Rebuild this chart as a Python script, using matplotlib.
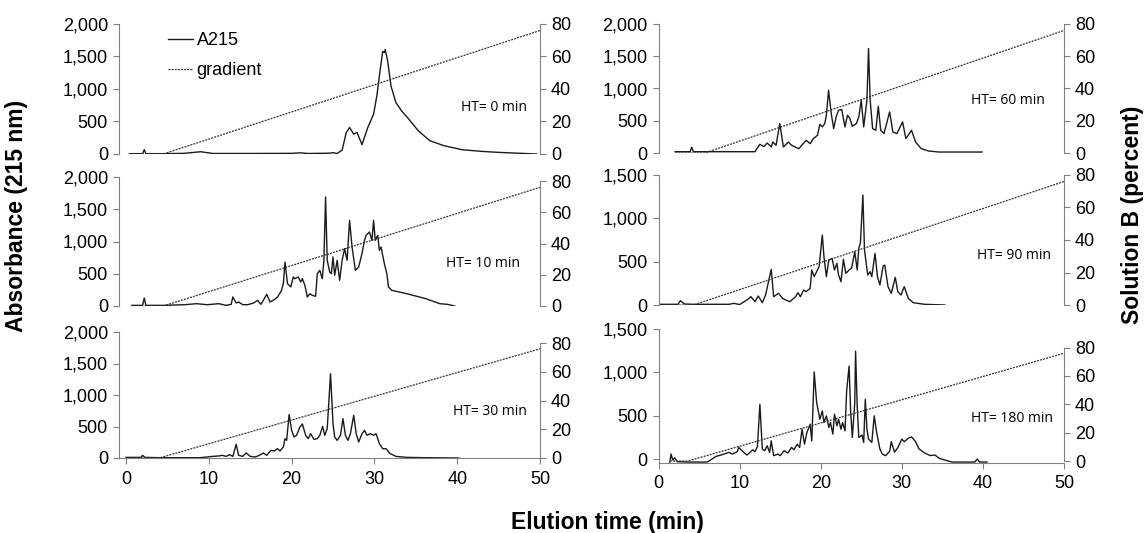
import matplotlib
matplotlib.use("Agg")
from matplotlib import pyplot as plt
from matplotlib.ticker import FuncFormatter

plt.rcParams['font.family'] = ['Liberation Sans', 'DejaVu Sans']

# HT = 0 min
t_ht0 = [0.4, 2.0, 2.2, 2.4, 4.5, 7.0, 9.0, 10.5, 15, 20, 21, 22, 24.5, 25, 25.5, 26.1, 26.6, 27.0,
         27.5, 27.9, 28.5, 29.2, 29.9, 30.3, 30.6, 31.0, 31.2, 31.3, 31.6, 32.0, 32.6, 33.3, 34.0,
         35.3, 36.7, 38.4, 40.6, 43, 45, 49.6]
a_ht0 = [5, 5, 66, 5, 5, 10, 35, 8, 8, 10, 18, 8, 12, 20, 8, 60, 330, 408, 306, 332, 143, 408, 612,
         900, 1200, 1580, 1560, 1607, 1430, 1046, 790, 660, 560, 357, 204, 128, 66, 40, 25, 0]

# HT = 60 min
t_ht60 = [2.05, 3.9, 4.1, 4.3, 5.7, 11.9, 12.5, 13.0, 13.4, 13.9, 14.1, 14.5, 14.95, 15.4, 16.0,
          16.4, 17.3, 18.2, 18.7, 19.1, 19.6, 19.9, 20.2, 20.5, 20.7, 20.97, 21.3, 21.6, 21.9, 22.2,
          22.6, 22.8, 23.0, 23.3, 23.6, 23.9, 24.4, 24.7, 25.0, 25.3, 25.7, 25.9, 26.1, 26.4, 26.8,
          27.1, 27.4, 27.8, 28.5, 28.9, 29.4, 30.1, 30.5, 31.2, 31.7, 32.4, 33.3, 34.6, 39.9]
a_ht60 = [20, 20, 90, 20, 20, 20, 135, 100, 155, 95, 170, 120, 456, 93, 170, 120, 67, 197, 145, 223,
          275, 445, 404, 456, 585, 974, 611, 378, 560, 663, 673, 534, 404, 585, 534, 414, 456, 560,
          818, 404, 818, 1620, 818, 378, 352, 725, 352, 300, 637, 326, 300, 482, 223, 352, 170, 67,
          31, 15, 15]

# HT = 10 min
t_ht10 = [0.7, 2.0, 2.2, 2.4, 2.7, 4.5, 7.1, 8.5, 9.8, 11.2, 12.1, 12.7, 12.9, 13.3, 13.6, 14.1,
          14.7, 15.4, 15.9, 16.3, 17.0, 17.4, 17.9, 18.3, 18.75, 19.0, 19.2, 19.5, 19.9, 20.2, 20.4,
          20.8, 21.1, 21.3, 21.6, 21.9, 22.2, 22.5, 22.9, 23.1, 23.4, 23.7, 23.9, 24.1, 24.3, 24.6,
          24.8, 25.0, 25.2, 25.5, 25.8, 26.1, 26.4, 26.7, 27.0, 27.3, 27.7, 28.1, 28.5, 28.8, 29.0,
          29.4, 29.7, 29.9, 30.1, 30.4, 30.6, 30.8, 31.2, 31.5, 31.7, 32.1, 33.9, 36.2, 37.9, 38.8,
          39.7]
a_ht10 = [10, 10, 124, 10, 10, 10, 20, 36, 20, 36, 10, 26, 140, 47, 62, 20, 20, 47, 88, 26, 181, 62,
          98, 140, 233, 346, 682, 346, 295, 450, 424, 450, 372, 424, 320, 140, 191, 165, 150, 501,
          553, 424, 708, 1690, 708, 527, 501, 760, 476, 708, 398, 708, 889, 708, 1329, 915, 553, 605,
          812, 1018, 1096, 1148, 1018, 1329, 1018, 1096, 863, 915, 657, 501, 295, 243, 191, 114, 36,
          26, 0]

# HT = 90 min
t_ht90 = [0.2, 2.4, 2.7, 3.2, 4.3, 8.7, 9.3, 10.0, 10.9, 11.4, 11.9, 12.3, 12.8, 13.2, 13.9, 14.2,
          14.8, 15.3, 15.7, 16.2, 16.9, 17.2, 17.5, 17.9, 18.2, 18.7, 18.9, 19.2, 19.5, 19.8, 20.2,
          20.4, 20.7, 21.0, 21.4, 21.7, 22.0, 22.2, 22.5, 22.8, 23.1, 23.5, 23.8, 24.0, 24.2, 24.5,
          24.7, 24.9, 25.2, 25.4, 25.8, 26.1, 26.3, 26.7, 27.0, 27.3, 27.7, 27.9, 28.3, 28.7, 29.2,
          29.5, 29.9, 30.3, 30.8, 31.4, 32.8, 35.3]
a_ht90 = [8, 8, 50, 12, 8, 8, 19, 5, 58, 96, 38, 104, 27, 115, 411, 96, 135, 77, 58, 38, 96, 142, 96,
          173, 154, 192, 404, 327, 385, 442, 808, 558, 327, 519, 538, 404, 481, 346, 269, 527, 365,
          404, 423, 519, 615, 404, 654, 720, 1269, 635, 346, 385, 327, 596, 327, 231, 450, 461, 212,
          135, 319, 154, 115, 212, 77, 27, 8, 0]

# HT = 30 min
t_ht30 = [0, 1.8, 2.0, 2.3, 4.0, 8.9, 9.8, 10.5, 11.2, 11.6, 12.1, 12.5, 12.9, 13.3, 13.6, 14.1,
          14.5, 15.0, 15.6, 16.1, 16.6, 17.0, 17.5, 17.9, 18.3, 18.6, 19.0, 19.2, 19.4, 19.7, 20.0,
          20.3, 20.6, 21.0, 21.3, 21.7, 22.0, 22.3, 22.7, 23.1, 23.4, 23.75, 24.0, 24.3, 24.7, 25.0,
          25.2, 25.5, 25.9, 26.2, 26.5, 26.8, 27.1, 27.5, 27.8, 28.1, 28.5, 28.8, 29.1, 29.5, 29.9,
          30.2, 30.6, 31.0, 31.4, 31.9, 32.6, 33.9, 36, 40.2]
a_ht30 = [10, 10, 42, 10, 5, 5, 16, 26, 32, 42, 26, 53, 26, 217, 42, 26, 79, 26, 16, 42, 79, 42, 122,
          111, 148, 111, 175, 307, 280, 690, 439, 333, 360, 492, 540, 360, 307, 386, 296, 307, 360,
          502, 360, 466, 1338, 545, 333, 280, 360, 624, 360, 280, 386, 677, 386, 254, 386, 439, 360,
          386, 360, 386, 228, 148, 148, 69, 26, 10, 5, 0]

# HT = 180 min
t_ht180 = [1.4, 1.55, 1.75, 2.0, 2.3, 3.6, 6.0, 6.6, 7.1, 7.7, 8.2, 8.7, 9.1, 9.7, 9.9, 10.3, 10.6,
           10.9, 11.3, 11.6, 11.9, 12.2, 12.5, 12.8, 13.1, 13.4, 13.7, 13.9, 14.2, 14.7, 15.0, 15.5,
           15.95, 16.4, 16.7, 17.1, 17.4, 17.7, 18.0, 18.3, 18.7, 18.9, 19.2, 19.5, 19.7, 19.9, 20.2,
           20.4, 20.7, 21.0, 21.2, 21.5, 21.7, 22.0, 22.2, 22.5, 22.7, 23.0, 23.2, 23.5, 23.7, 23.9,
           24.2, 24.3, 24.5, 24.7, 25.1, 25.3, 25.5, 25.7, 25.9, 26.3, 26.6, 26.9, 27.3, 27.6, 28.0,
           28.5, 28.7, 29.1, 29.5, 30.0, 30.3, 30.8, 31.2, 31.7, 32.1, 32.8, 33.5, 34.1, 34.6, 35.6,
           36.2, 39.0, 39.3, 39.6, 40.5]
a_ht180 = [-35, 58, -10, 15, -30, -35, -35, 0, 31, 46, 61, 77, 57, 84, 134, 96, 69, 46, 77, 107, 84,
           145, 631, 115, 96, 153, 77, 210, 38, 57, 38, 96, 69, 134, 107, 172, 134, 344, 172, 306, 402,
           210, 1003, 651, 555, 459, 555, 421, 498, 364, 421, 287, 517, 383, 459, 344, 421, 325, 785,
           1072, 536, 249, 651, 1244, 612, 249, 276, 191, 689, 344, 230, 191, 498, 306, 115, 57, 38,
           90, 200, 80, 130, 230, 200, 240, 255, 200, 120, 70, 40, 46, 8, -19, -35, -35, 0, -35, -35]

# gradient (solution B, percent): flat, then linear ramp to 50 min
grad_b = [0, 0, 76]
grad_t = {
    "0": [0.4, 4.5, 50],
    "60": [2.05, 5.7, 50],
    "10": [0.7, 4.5, 50],
    "90": [0.2, 4.3, 50],
    "30": [0.0, 4.0, 50],
    "180": [1.4, 3.6, 50],
}

W, H = 1148, 533
TICK_FS = 13
GRAY = '#808080'


def rect(x0, x1, ytop, ybot):
    return [x0 / W, 1 - ybot / H, (x1 - x0) / W, (ybot - ytop) / H]


def panel(fig, r, t, a, key, xmin, ylim, ymax_tick, twin_lim, ht_pos, bottom=False):
    ax = fig.add_axes(r)
    line_a, = ax.plot(t, a, color='#1a1a1a', lw=1.0)
    ax2 = ax.twinx()
    line_g, = ax2.plot(grad_t[key], grad_b, color='#333333', lw=0.9, ls=(0, (1.6, 0.9)))

    ax.set_xlim(xmin, 50)
    ax.set_ylim(*ylim)
    ax.set_yticks(list(range(0, ymax_tick + 1, 500)))
    ax.yaxis.set_major_formatter(FuncFormatter(lambda v, p: "{:,}".format(int(v))))
    for s in ['top', 'right']:
        ax.spines[s].set_visible(False)
    ax.spines['left'].set_color(GRAY)
    ax.tick_params(axis='y', direction='out', length=4, color=GRAY, labelsize=TICK_FS, pad=4)
    if bottom:
        ax.spines['bottom'].set_color(GRAY)
        ax.set_xticks([0, 10, 20, 30, 40, 50])
        ax.tick_params(axis='x', direction='out', length=4, color=GRAY, labelsize=TICK_FS, pad=5)
    else:
        ax.spines['bottom'].set_visible(False)
        ax.tick_params(axis='x', which='both', bottom=False, labelbottom=False)

    ax2.set_ylim(*twin_lim)
    ax2.set_yticks([0, 20, 40, 60, 80])
    for s in ['top', 'left', 'bottom']:
        ax2.spines[s].set_visible(False)
    ax2.spines['right'].set_color(GRAY)
    ax2.spines['right'].set_bounds(0, 80)
    ax2.tick_params(axis='y', direction='out', length=4, color=GRAY, labelsize=TICK_FS, pad=4)

    ax.text(ht_pos[0], ht_pos[1], "HT= {} min".format(key), transform=ax.transAxes,
            ha='right', va='center', fontsize=10, family=['Open Sans', 'DejaVu Sans'])
    return ax, line_a, line_g


fig = plt.figure(figsize=(11.48, 5.33), dpi=100)

ax_tl, la, lg = panel(fig, rect(119, 540, 24, 154), t_ht0, a_ht0, "0", -0.85, (0, 2000), 2000,
                      (0, 80), (0.969, 0.36))
panel(fig, rect(658.5, 1064, 24, 153), t_ht60, a_ht60, "60", 0, (0, 2000), 2000,
      (0, 80), (0.954, 0.41))
panel(fig, rect(119, 540, 177, 306), t_ht10, a_ht10, "10", -0.85, (0, 2000), 2000,
      (0, 82.6), (0.952, 0.33))
panel(fig, rect(658.5, 1064, 175, 305), t_ht90, a_ht90, "90", 0, (0, 1500), 1500,
      (0, 80), (0.968, 0.38))
panel(fig, rect(119, 540, 332, 458), t_ht30, a_ht30, "30", -0.85, (0, 2000), 2000,
      (0, 87.7), (0.969, 0.37), bottom=True)
panel(fig, rect(658.5, 1064, 329, 462.5), t_ht180, a_ht180, "180", 0, (-40, 1500), 1500,
      (-1, 93.1), (0.973, 0.326), bottom=True)

ax_tl.legend([la, lg], ['A215', 'gradient'], loc='upper left', bbox_to_anchor=(0.116, 0.935),
             frameon=False, fontsize=TICK_FS, handlelength=1.4, handletextpad=0.2,
             labelspacing=0.7, borderpad=0, borderaxespad=0)

fig.text(17 / W, 1 - 216 / H, 'Absorbance (215 nm)', rotation=90, ha='center', va='center',
         fontsize=16.5, fontweight='bold')
fig.text(1132 / W, 1 - 215 / H, 'Solution B (percent)', rotation=90, ha='center', va='center',
         fontsize=16.5, fontweight='bold')
fig.text(607 / W, 1 - 522 / H, 'Elution time (min)', ha='center', va='center',
         fontsize=16.5, fontweight='bold')

fig.savefig('out.png', dpi=100)
